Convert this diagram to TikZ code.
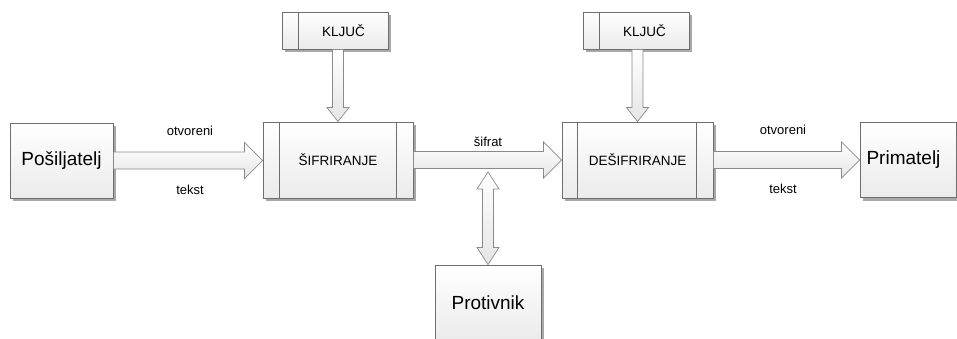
\documentclass[tikz,border=0pt]{standalone}
\usepackage{fontspec}
\setmainfont{Liberation Sans}
\usetikzlibrary{calc,shadows}
\definecolor{bord}{HTML}{6E6E6E}
\definecolor{abord}{HTML}{8A8A8A}
\definecolor{shad}{HTML}{A8A8A8}
\tikzset{
  box/.style={draw=bord, line width=0.9pt, top color=white, bottom color=black!8,
    drop shadow={shadow xshift=3pt, shadow yshift=-3pt, fill=shad, opacity=1},
    inner sep=0pt, align=center},
  bigtxt/.style={font=\fontsize{19}{22}\selectfont},
  smalltxt/.style={font=\fontsize{13.5}{16}\selectfont},
  lbl/.style={font=\fontsize{13}{15}\selectfont, inner sep=0pt},
  barrow/.style={draw=abord, line width=0.7pt, top color=white, bottom color=black!10},
  strip/.style={draw=bord, line width=0.9pt}
}
\newcommand\harr[2]{%
  \path[barrow] let \p1=(#1), \p2=(#2) in
    (\x1,\y1+8.5pt) -- (\x2-18pt,\y1+8.5pt) -- (\x2-18pt,\y1+18pt) -- (\x2,\y1)
    -- (\x2-18pt,\y1-18pt) -- (\x2-18pt,\y1-8.5pt) -- (\x1,\y1-8.5pt) -- cycle;}
\newcommand\varr[2]{%
  \path[barrow] let \p1=(#1), \p2=(#2) in
    (\x2-5.5pt,\y1) -- (\x2-5.5pt,\y2+14pt) -- (\x2-11pt,\y2+14pt) -- (\x2,\y2)
    -- (\x2+11pt,\y2+14pt) -- (\x2+5.5pt,\y2+14pt) -- (\x2+5.5pt,\y1) -- cycle;}
\newcommand\darr[2]{%
  \path[barrow] let \p1=(#1), \p2=(#2) in
    (\x2,\y1) -- (\x2+11pt,\y1-17pt) -- (\x2+5.5pt,\y1-17pt) -- (\x2+5.5pt,\y2+17pt)
    -- (\x2+11pt,\y2+17pt) -- (\x2,\y2) -- (\x2-11pt,\y2+17pt) -- (\x2-5.5pt,\y2+17pt)
    -- (\x2-5.5pt,\y1-17pt) -- (\x2-11pt,\y1-17pt) -- cycle;}
\begin{document}
\begin{tikzpicture}[x=1pt,y=-1pt]
\useasboundingbox (0,0) rectangle (957,338);
\clip (0,0) rectangle (957,338);
% boxes
\node[box, bigtxt, minimum width=103pt, minimum height=75pt] (pos) at (61.5,160.5) {Pošiljatelj};
\node[box, smalltxt, minimum width=150pt, minimum height=76pt] (sif) at (338,160) {ŠIFRIRANJE};
\node[box, smalltxt, minimum width=151pt, minimum height=76pt] (des) at (637.5,160) {DEŠIFRIRANJE};
\node[box, smalltxt, minimum width=106pt, minimum height=37pt] (k1) at (335,30.5) {\hspace*{17pt}KLJUČ};
\node[box, smalltxt, minimum width=106pt, minimum height=37pt] (k2) at (636,30.5) {\hspace*{17pt}KLJUČ};
\node[box, bigtxt, minimum width=96pt, minimum height=75pt] (pri) at (908,160) {\hspace*{-9pt}Primatelj};
\node[box, bigtxt, minimum width=106pt, minimum height=76pt] (pro) at (488,303) {Protivnik};
% strips
\draw[strip] ($(sif.north west)+(17,0)$) -- ($(sif.south west)+(17,0)$);
\draw[strip] ($(sif.north east)+(-17,0)$) -- ($(sif.south east)+(-17,0)$);
\draw[strip] ($(des.north west)+(16,0)$) -- ($(des.south west)+(16,0)$);
\draw[strip] ($(des.north east)+(-17,0)$) -- ($(des.south east)+(-17,0)$);
\draw[strip] ($(k1.north west)+(17,0)$) -- ($(k1.south west)+(17,0)$);
\draw[strip] ($(k2.north west)+(17,0)$) -- ($(k2.south west)+(17,0)$);
% arrows
\harr{pos.east}{sif.west}
\harr{sif.east}{des.west}
\harr{des.east}{pri.west}
\varr{k1.south}{sif.north}
\varr{k2.south}{des.north}
\coordinate (tap) at (488,172);
\darr{tap}{pro.north}
% labels
\node[lbl] (l1) at (190,131) {otvoreni};
\node[lbl] (l2) at (190,190) {tekst};
\node[lbl] (l3) at (488,142) {šifrat};
\node[lbl] (l4) at (783,130) {otvoreni};
\node[lbl] (l5) at (783,189) {tekst};
\end{tikzpicture}
\end{document}
